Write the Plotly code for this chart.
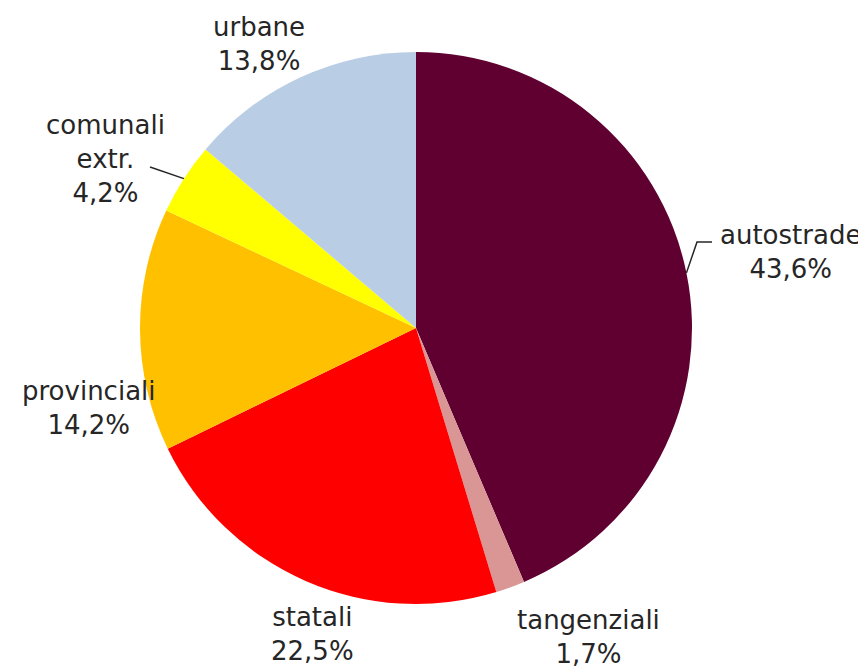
import math
import plotly.graph_objects as go

# ---- data ----
categories = ["autostrade", "tangenziali", "statali", "provinciali", "comunali extr.", "urbane"]
shares = [43.6, 1.7, 22.5, 14.2, 4.2, 13.8]
colors = ["#600030", "#D99694", "#FF0000", "#FFC000", "#FFFF00", "#B9CDE5"]

# ---- layout constants (pixels, in window coordinates) ----
W, H = 866, 671
OFF = 8  # page body margin
CX, CY, R = 416, 328, 276
label_pos = [(790, 252), (588, 637), (312, 634), (89, 408), (105, 159), (259, 44)]
leaders = {0: [(697, 242), (712, 242)], 4: [(150, 167)]}
FONT = dict(family="DejaVu Sans", size=26, color="#262626")


def px(x, y):
    return (x - OFF) / W, 1 - (y - OFF) / H


dx0, dy1 = px(CX - R, CY - R)
dx1, dy0 = px(CX + R, CY + R)

fig = go.Figure(go.Pie(
    labels=categories,
    values=shares,
    sort=False,
    direction="clockwise",
    rotation=0,
    marker=dict(colors=colors, line=dict(width=0)),
    textinfo="none",
    hoverinfo="label+percent",
    showlegend=False,
    domain=dict(x=[dx0, dx1], y=[dy0, dy1]),
))

total = sum(shares)
annotations = []
shapes = []
cum = 0.0
for i, (cat, v) in enumerate(zip(categories, shares)):
    mid = (cum + v / 2) / total * 2 * math.pi
    cum += v
    pct = f"{v / total * 100:.1f}".replace(".", ",") + "%"
    lx, ly = label_pos[i]
    ax_, ay_ = px(lx, ly)
    annotations.append(dict(
        x=ax_, y=ay_, xref="paper", yref="paper", showarrow=False,
        text=cat.replace(" ", "<br>") + "<br>" + pct,
        xanchor="center", yanchor="middle", align="center", font=FONT,
    ))
    if i in leaders:
        ex = CX + R * math.sin(mid)
        ey = CY - R * math.cos(mid)
        pts = [(ex, ey)] + leaders[i]
        path = ""
        for j, (qx, qy) in enumerate(pts):
            X, Y = px(qx, qy)
            path += ("M" if j == 0 else " L") + f" {X:.5f} {Y:.5f}"
        shapes.append(dict(type="path", path=path, xref="paper", yref="paper",
                           line=dict(color="#262626", width=1.5)))

fig.update_layout(
    width=W, height=H,
    margin=dict(l=0, r=0, t=0, b=0),
    paper_bgcolor="white", plot_bgcolor="white",
    annotations=annotations, shapes=shapes,
)
fig.write_html("out.html")
